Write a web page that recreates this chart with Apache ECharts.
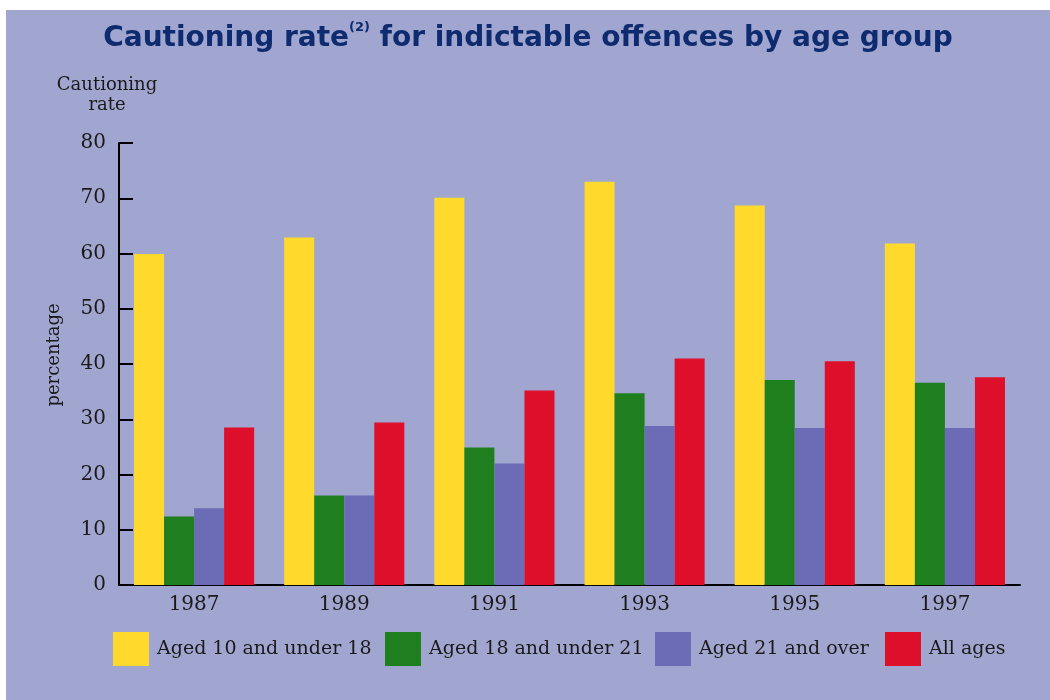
<!DOCTYPE html>
<html>
<head>
<meta charset="utf-8">
<script src="https://cdn.jsdelivr.net/npm/echarts@6/dist/echarts.min.js"></script>
<style>
  body{margin:0;background:#ffffff;}
  #chart{position:absolute;left:6px;top:10px;width:1044px;height:690px;}
</style>
</head>
<body>
<div id="chart"></div>
<script>
  // years on the x axis
  var years = ['1987', '1989', '1991', '1993', '1995', '1997'];
  var seriesNames = ['Aged 10 and under 18', 'Aged 18 and under 21', 'Aged 21 and over', 'All ages'];
  // cautioning rate, percentage
  var aged10to18 = [59.9, 62.9, 70.1, 73.0, 68.7, 61.8];
  var aged18to21 = [12.4, 16.2, 24.9, 34.7, 37.1, 36.6];
  var aged21plus = [13.9, 16.2, 22.0, 28.8, 28.4, 28.4];
  var allAges = [28.5, 29.4, 35.2, 41.0, 40.5, 37.6];
  var colors = ['#ffd92b', '#1f7f1f', '#6c6cb6', '#de0f2b'];

  var chart = echarts.init(document.getElementById('chart'));
  var serif = '"DejaVu Serif", "Liberation Serif", serif';
  var sans = '"DejaVu Sans", "Liberation Sans", Arial, sans-serif';
  // one legend per item, placed like the original
  var legendLeft = [107, 379, 649, 879];

  var option = {
    backgroundColor: '#a0a6cf',
    animation: false,
    title: {
      left: 'center',
      top: 11,
      padding: 0,
      text: '{a|Cautioning rate}{s|(2)}{a| for indictable offences by age group}',
      textStyle: {
        rich: {
          a: {fontFamily: sans, fontWeight: 'bold', fontSize: 28, color: '#0d2b6e', lineHeight: 36},
          s: {fontFamily: sans, fontWeight: 'bold', fontSize: 13, color: '#0d2b6e', verticalAlign: 'top', lineHeight: 36, padding: [0, 0, 16, 0]}
        }
      }
    },
    legend: seriesNames.map(function (n, i) {
      return {
        data: [n],
        left: legendLeft[i],
        top: 622,
        padding: 0,
        itemWidth: 36,
        itemHeight: 34,
        itemGap: 0,
        icon: 'rect',
        textStyle: {fontFamily: serif, fontSize: 19, color: '#1a1a1a', padding: [0, 0, 0, 3]}
      };
    }),
    grid: {left: 113, top: 133, width: 901, height: 442},
    xAxis: {
      type: 'category',
      data: years,
      axisLine: {lineStyle: {color: '#000', width: 2}},
      axisTick: {show: false},
      axisLabel: {fontFamily: serif, fontSize: 20, color: '#1a1a1a', margin: 10}
    },
    yAxis: {
      type: 'value',
      min: 0,
      max: 80,
      interval: 10,
      axisLine: {show: true, lineStyle: {color: '#000', width: 2}},
      axisTick: {show: true, inside: true, length: 14, lineStyle: {color: '#000', width: 2}},
      splitLine: {show: false},
      axisLabel: {fontFamily: serif, fontSize: 20, color: '#1a1a1a', margin: 13}
    },
    graphic: [
      {
        type: 'text', x: 101, y: 65,
        style: {text: 'Cautioning\nrate', fontFamily: serif, fontSize: 18, fill: '#1a1a1a', align: 'center', lineHeight: 20}
      },
      {
        type: 'text', x: 48, y: 345, rotation: Math.PI / 2,
        style: {text: 'percentage', fontFamily: serif, fontSize: 18, fill: '#1a1a1a', align: 'center', verticalAlign: 'middle'}
      }
    ],
    series: [aged10to18, aged18to21, aged21plus, allAges].map(function (d, i) {
      return {
        name: seriesNames[i],
        type: 'bar',
        data: d,
        barGap: '0%',
        barCategoryGap: '20%',
        itemStyle: {color: colors[i]}
      };
    })
  };
  chart.setOption(option);
</script>
</body>
</html>
